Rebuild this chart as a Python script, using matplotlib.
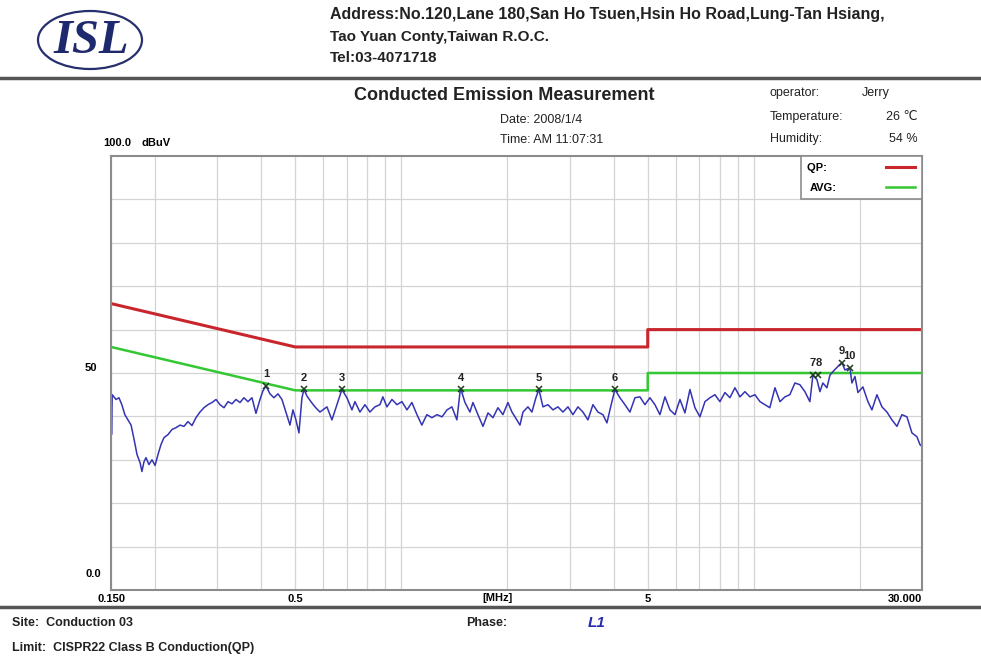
import matplotlib
matplotlib.use('Agg')
from matplotlib import pyplot as plt
from matplotlib.patches import Ellipse
from matplotlib.lines import Line2D
from matplotlib.ticker import LogLocator, NullFormatter

plt.rcParams['font.family'] = ['Liberation Sans', 'DejaVu Sans']

# L1 trace (MHz, dBuV)
freq = [0.150, 0.1505, 0.1512, 0.155, 0.158, 0.161, 0.1642, 0.1675, 0.171, 0.1744,
        0.1778, 0.1814, 0.1836, 0.186, 0.1885, 0.1922, 0.1961, 0.200, 0.2039, 0.2079,
        0.212, 0.2176, 0.2235, 0.2294, 0.2355, 0.2416, 0.248, 0.2546, 0.2613, 0.2682,
        0.2753, 0.2826, 0.2902, 0.2979, 0.3058, 0.3138, 0.3221, 0.3307, 0.3394, 0.3484,
        0.3575, 0.367, 0.3768, 0.3867, 0.397, 0.4048, 0.4129, 0.4238, 0.4349, 0.4465,
        0.4583, 0.4704, 0.4829, 0.4924, 0.5021, 0.5121, 0.5222, 0.5291, 0.5395, 0.5538,
        0.5685, 0.5873, 0.6148, 0.6353, 0.6564, 0.6781, 0.7006, 0.7239, 0.7383, 0.7628,
        0.788, 0.8142, 0.8412, 0.8692, 0.8863, 0.9098, 0.9402, 0.9715, 1.0036, 1.037,
        1.071, 1.107, 1.143, 1.181, 1.221, 1.262, 1.304, 1.347, 1.391, 1.437,
        1.466, 1.476, 1.515, 1.565, 1.596, 1.649, 1.704, 1.761, 1.819, 1.879,
        1.941, 2.006, 2.059, 2.100, 2.170, 2.213, 2.286, 2.346, 2.408, 2.456,
        2.522, 2.605, 2.692, 2.781, 2.873, 2.969, 3.067, 3.169, 3.274, 3.383,
        3.495, 3.611, 3.731, 3.830, 3.906, 4.035, 4.169, 4.308, 4.451, 4.599,
        4.751, 4.909, 5.072, 5.240, 5.414, 5.595, 5.780, 5.972, 6.171, 6.376,
        6.587, 6.806, 7.032, 7.266, 7.507, 7.755, 8.013, 8.279, 8.554, 8.838,
        9.132, 9.435, 9.748, 10.07, 10.41, 10.75, 11.10, 11.48, 11.86, 12.25,
        12.65, 13.08, 13.51, 13.96, 14.42, 14.71, 15.10, 15.40, 15.70, 16.12,
        16.44, 16.76, 17.31, 17.78, 18.13, 18.73, 18.98, 19.36, 19.74, 20.39,
        21.07, 21.63, 22.35, 23.09, 23.86, 24.65, 25.47, 26.31, 27.19, 28.09,
        29.03, 29.6, 30.0]
level = [47.3, 35.8, 45.0, 43.9, 44.3, 42.7, 40.4, 39.2, 38.0, 34.7,
         31.2, 29.3, 27.3, 29.5, 30.5, 28.9, 30.0, 28.7, 31.2, 33.5,
         35.1, 35.8, 37.0, 37.4, 38.0, 37.7, 38.8, 37.9, 39.7, 41.0,
         42.0, 42.7, 43.2, 43.9, 42.7, 42.0, 43.4, 42.9, 43.9, 43.2,
         44.3, 43.4, 44.3, 40.7, 43.9, 45.9, 47.0, 45.2, 44.3, 45.2,
         43.9, 41.0, 38.0, 41.5, 39.2, 36.2, 44.3, 46.2, 44.7, 43.4,
         42.2, 41.0, 42.2, 39.2, 42.7, 46.2, 44.3, 41.5, 43.4, 41.0,
         42.7, 41.0, 42.2, 42.7, 44.5, 42.2, 43.9, 42.7, 43.4, 41.5,
         43.2, 40.4, 38.0, 40.4, 39.7, 40.4, 39.9, 41.5, 42.2, 39.2,
         45.5, 46.2, 43.2, 41.0, 43.2, 40.4, 37.7, 40.8, 39.7, 42.0,
         40.4, 43.2, 41.0, 39.9, 38.0, 41.0, 42.2, 41.0, 44.3, 46.2,
         42.2, 42.7, 41.5, 42.2, 41.0, 42.2, 40.4, 42.2, 41.0, 39.2,
         42.7, 41.0, 40.4, 38.5, 41.5, 46.2, 44.3, 42.7, 41.0, 44.3,
         44.5, 42.7, 44.3, 42.7, 40.4, 44.5, 41.5, 40.4, 43.9, 40.8,
         46.2, 42.0, 39.9, 43.4, 44.3, 45.0, 43.4, 45.5, 44.3, 46.6,
         44.5, 45.7, 44.5, 45.0, 43.4, 42.7, 42.0, 46.6, 43.4, 44.5,
         45.0, 47.7, 47.3, 45.7, 43.4, 49.5, 48.5, 45.7, 47.7, 46.6,
         49.5, 50.3, 51.5, 52.4, 50.7, 51.2, 47.7, 49.2, 45.5, 46.8,
         43.4, 41.5, 45.0, 42.2, 41.0, 39.2, 37.7, 40.4, 39.9, 36.2,
         35.3, 33.5, 33.1]

# CISPR22 class B limits
qp_freq = [0.15, 0.5, 5, 5, 30]
qp_level = [66, 56, 56, 60, 60]
avg_freq = [0.15, 0.5, 5, 5, 30]
avg_level = [56, 46, 46, 50, 50]

# peak markers
mk_freq = [0.4129, 0.5291, 0.6781, 1.476, 2.456, 4.035, 14.71, 15.25, 17.78, 18.73]
mk_level = [47.0, 46.2, 46.2, 46.2, 46.2, 46.2, 49.5, 49.5, 52.4, 51.2]
mk_label = ['1', '2', '3', '4', '5', '6', '7', '8', '9', '10']

x_ticks = [0.15, 0.5, 5, 30]
x_labels = ['0.150', '0.5', '5', '30.000']

W, H = 981, 667
fig = plt.figure(figsize=(W / 100, H / 100), dpi=100)


def ftext(x, y, s, **kw):
    fig.text(x / W, 1 - y / H, s, va='center', **kw)


# header
fig.add_artist(Ellipse((90 / W, 1 - 40 / H), 104 / W, 58 / H, transform=fig.transFigure,
                       fill=False, edgecolor='#27306e', lw=1.6))
ftext(91, 41, 'ISL', ha='center', family='Liberation Serif', fontsize=35,
      fontweight='bold', style='italic', color='#1f2a6e')
ftext(330, 15, 'Address:No.120,Lane 180,San Ho Tsuen,Hsin Ho Road,Lung-Tan Hsiang,',
      fontsize=11.5, fontweight='bold', color='#222222')
ftext(330, 37, 'Tao Yuan Conty,Taiwan R.O.C.', fontsize=11, fontweight='bold', color='#222222')
ftext(330, 58, 'Tel:03-4071718', fontsize=11, fontweight='bold', color='#222222')
fig.add_artist(Line2D([0, 1], [1 - 78 / H, 1 - 78 / H], transform=fig.transFigure,
                      color='#555555', lw=2.5))

ftext(504, 95, 'Conducted Emission Measurement', ha='center', fontsize=13, fontweight='bold',
      color='#222222')
ftext(500, 120, 'Date: 2008/1/4', fontsize=9, color='#222222')
ftext(500, 140, 'Time: AM 11:07:31', fontsize=9, color='#222222')
ftext(770, 93, 'operator:', fontsize=9, color='#222222')
ftext(862, 93, 'Jerry', fontsize=9, color='#222222')
ftext(770, 117, 'Temperature:', fontsize=9, color='#222222')
ftext(918, 117, '26 \u2103', ha='right', fontsize=9, color='#222222')
ftext(770, 139, 'Humidity:', fontsize=9, color='#222222')
ftext(918, 139, '54 %', ha='right', fontsize=9, color='#222222')

# plot
ax = fig.add_axes([111 / W, 1 - 590 / H, 811 / W, 434 / H])
ax.plot(qp_freq, qp_level, color='#c8262c', lw=2.2, label='QP:   ')
ax.plot(avg_freq, avg_level, color='#33c733', lw=1.8, label='AVG:')
ax.plot(freq, level, color='#3434b4', lw=1.1)
ax.plot(mk_freq, mk_level, 'x', color='#1d3b1d', ms=5, mew=1.1)
for f, l, t in zip(mk_freq, mk_level, mk_label):
    ax.annotate(t, (f, l), xytext=(0, 5), textcoords='offset points', ha='center',
                va='bottom', fontsize=8, fontweight='bold', color='#222222')

ax.set_xscale('log')
ax.set_xlim(0.15, 30)
ax.set_ylim(0, 100)
ax.set_xticks(x_ticks)
ax.set_xticklabels(x_labels)
ax.xaxis.set_minor_locator(LogLocator(base=10, subs=range(1, 10), numticks=20))
ax.xaxis.set_minor_formatter(NullFormatter())
ax.set_yticks([50])
ax.set_yticklabels(['50'], va='bottom')
ax.set_yticks(range(0, 100, 10), minor=True)
ax.grid(True, which='both', color='#d4d4d4', lw=0.9)
ax.tick_params(which='both', length=0, labelsize=8)
ax.tick_params(axis='x', pad=3)
ax.tick_params(axis='y', pad=10)
for lab in ax.get_xticklabels() + ax.get_yticklabels():
    lab.set_fontweight('bold')
ax.get_xticklabels()[-1].set_ha('right')
for sp in ax.spines.values():
    sp.set_color('#8c8c8c')
    sp.set_linewidth(1.5)

ax.text(1.87, -0.007, '[MHz]', transform=ax.get_xaxis_transform(), ha='center', va='top',
        fontsize=8, fontweight='bold')
ax.text(-0.012, 0.025, '0.0', transform=ax.transAxes, ha='right', va='bottom',
        fontsize=8, fontweight='bold')
ax.text(0.025, 1.03, '100.0', transform=ax.transAxes, ha='right', va='center',
        fontsize=8, fontweight='bold')
ax.text(0.037, 1.03, 'dBuV', transform=ax.transAxes, ha='left', va='center',
        fontsize=8, fontweight='bold')

leg = ax.legend(loc='upper right', markerfirst=False, fancybox=False, edgecolor='#8c8c8c',
                borderaxespad=0, handlelength=2.6, handletextpad=4.5, labelspacing=0.9,
                borderpad=0.6, prop={'size': 8, 'weight': 'bold'})
leg.get_frame().set_linewidth(1.2)
leg.get_frame().set_alpha(1)

# footer
fig.add_artist(Line2D([0, 1], [1 - 607 / H, 1 - 607 / H], transform=fig.transFigure,
                      color='#555555', lw=2.5))
ftext(12, 623, 'Site:  Conduction 03', fontsize=9, fontweight='bold', color='#222222')
ftext(466, 623, 'Phase:', fontsize=9, fontweight='bold', color='#222222')
ftext(588, 623, 'L1', fontsize=11, fontweight='bold', style='italic', color='#2b2bb0')
ftext(12, 648, 'Limit:  CISPR22 Class B Conduction(QP)', fontsize=9, fontweight='bold',
      color='#222222')

plt.savefig('out.png', dpi=100)
